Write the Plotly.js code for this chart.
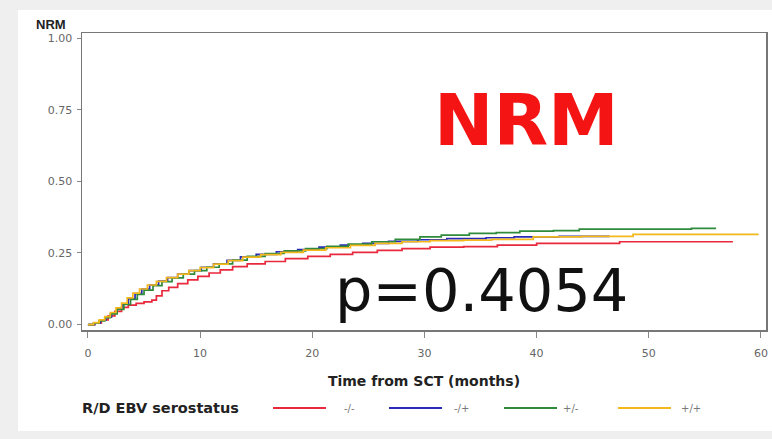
<!DOCTYPE html>
<html>
<head>
<meta charset="utf-8">
<script src="https://cdn.plot.ly/plotly-3.0.1.min.js"></script>
<style>
  html, body { margin: 0; padding: 0; background: #efefef; width: 772px; height: 439px; overflow: hidden; }
  #chart { position: absolute; left: 18px; top: 10px; width: 754px; height: 421px; background: #ffffff; }
</style>
</head>
<body>
<div id="chart"></div>
<script>
// ---- data ----
const groupNames = ["-/-", "-/+", "+/-", "+/+"];
const groupColors = ["#e8283c", "#2a2ab8", "#2f8a3c", "#f2b81c"];

const redTime = [0, 0.6, 1.2, 1.8, 2.4, 3.0, 3.6, 4.3, 5.0, 5.7, 6.1, 6.6, 7.2, 8.0, 8.9, 9.8, 10.8, 11.8, 12.9, 14.2, 15.8, 17.6, 19.6, 21.6, 23.6, 25.8, 28.0, 30.5, 33.5, 36.5, 40.0, 43.5, 47.4, 52.0, 57.5];
const redValue = [0, 0.006, 0.016, 0.030, 0.046, 0.060, 0.068, 0.074, 0.079, 0.085, 0.100, 0.118, 0.130, 0.143, 0.156, 0.168, 0.180, 0.191, 0.202, 0.212, 0.220, 0.230, 0.238, 0.245, 0.252, 0.259, 0.265, 0.270, 0.272, 0.277, 0.283, 0.283, 0.289, 0.289, 0.289];

const blueTime = [0, 0.6, 1.1, 1.6, 2.1, 2.6, 3.1, 3.6, 4.2, 4.8, 5.5, 6.3, 7.1, 8.0, 9.0, 10.1, 11.2, 12.4, 13.6, 15.0, 16.8, 18.7, 20.6, 22.5, 24.5, 26.8, 29.4, 32.0, 35.5, 38.0, 42.0, 46.5];
const blueValue = [0, 0.006, 0.015, 0.026, 0.040, 0.056, 0.072, 0.090, 0.108, 0.124, 0.138, 0.152, 0.164, 0.176, 0.188, 0.200, 0.212, 0.224, 0.236, 0.245, 0.254, 0.262, 0.270, 0.277, 0.283, 0.290, 0.296, 0.300, 0.303, 0.306, 0.308, 0.308];

const greenTime = [0, 0.5, 1.0, 1.5, 2.0, 2.6, 3.2, 3.8, 4.4, 5.0, 5.8, 6.6, 7.5, 8.5, 9.5, 10.6, 11.7, 12.9, 14.2, 15.8, 17.5, 19.4, 21.3, 23.2, 25.3, 27.4, 29.6, 31.5, 34.0, 36.4, 38.5, 41.5, 43.8, 49.0, 53.8, 56.0];
const greenValue = [0, 0.005, 0.013, 0.024, 0.037, 0.053, 0.070, 0.088, 0.105, 0.120, 0.136, 0.150, 0.163, 0.176, 0.188, 0.200, 0.212, 0.225, 0.238, 0.248, 0.257, 0.265, 0.273, 0.281, 0.289, 0.297, 0.306, 0.312, 0.318, 0.321, 0.326, 0.328, 0.333, 0.333, 0.336, 0.336];

const yellowTime = [0, 0.5, 1.0, 1.5, 2.0, 2.5, 3.0, 3.5, 4.0, 4.6, 5.3, 6.1, 7.0, 8.0, 9.0, 10.0, 11.2, 12.5, 13.8, 15.4, 17.2, 19.2, 21.2, 23.4, 25.6, 28.0, 30.5, 33.5, 36.0, 39.7, 44.0, 48.6, 53.0, 59.8];
const yellowValue = [0, 0.007, 0.016, 0.028, 0.042, 0.058, 0.075, 0.093, 0.110, 0.124, 0.138, 0.151, 0.164, 0.176, 0.188, 0.199, 0.211, 0.223, 0.235, 0.244, 0.252, 0.260, 0.268, 0.276, 0.283, 0.289, 0.293, 0.295, 0.297, 0.306, 0.308, 0.315, 0.315, 0.315];

const xTicks = [0, 10, 20, 30, 40, 50, 60];
const yTicks = [0, 0.25, 0.5, 0.75, 1.0];

const yAxisLabel = "NRM";
const xAxisLabel = "Time from SCT (months)";
const legendTitle = "R/D EBV serostatus";
const bigLabel = "NRM";
const pValueLabel = "p=0.4054";

// ---- traces ----
const series = [
  [redTime, redValue],
  [blueTime, blueValue],
  [greenTime, greenValue],
  [yellowTime, yellowValue]
];
const traces = series.map((s, i) => ({
  type: "scatter",
  mode: "lines",
  x: s[0],
  y: s[1],
  name: groupNames[i],
  line: { color: groupColors[i], width: 1.7, shape: "hv" },
  showlegend: false,
  hoverinfo: "skip"
}));

// ---- custom legend (line samples + labels), in paper coordinates ----
const plotL = 82, plotR = 766, plotT = 33, plotB = 330;
const px2x = p => (p - plotL) / (plotR - plotL);
const py2y = p => (plotB - p) / (plotB - plotT);
const legendY = 408;
const legendLineStart = [273, 389, 504, 618];
const legendLineLen = 53;
const legendTextX = [349, 461, 571, 691];

const shapes = groupNames.map((g, i) => ({
  type: "line", xref: "paper", yref: "paper",
  x0: px2x(legendLineStart[i]), x1: px2x(legendLineStart[i] + legendLineLen),
  y0: py2y(legendY), y1: py2y(legendY),
  line: { color: groupColors[i], width: 2 }
}));

const FONT = "DejaVu Sans, Verdana, sans-serif";
const annotations = [
  { text: yAxisLabel, xref: "paper", yref: "paper", x: px2x(51), y: py2y(24),
    xanchor: "center", yanchor: "middle", showarrow: false,
    font: { family: "Liberation Sans, Arial, sans-serif", size: 13, color: "#222", weight: "bold" } },
  { text: bigLabel, xref: "paper", yref: "paper", x: px2x(526), y: py2y(120),
    xanchor: "center", yanchor: "middle", showarrow: false,
    font: { family: FONT, size: 71, color: "#f41414", weight: "bold" } },
  { text: pValueLabel, xref: "paper", yref: "paper", x: px2x(481), y: py2y(290),
    xanchor: "center", yanchor: "middle", showarrow: false,
    font: { family: FONT, size: 59, color: "#111" } },
  { text: legendTitle, xref: "paper", yref: "paper", x: px2x(80), y: py2y(legendY),
    xanchor: "left", yanchor: "middle", showarrow: false,
    font: { family: FONT, size: 14.5, color: "#222", weight: "bold" } }
].concat(groupNames.map((g, i) => ({
  text: g, xref: "paper", yref: "paper", x: px2x(legendTextX[i]), y: py2y(legendY),
  xanchor: "center", yanchor: "middle", showarrow: false,
  font: { family: FONT, size: 10, color: "#777" }
})));

const layout = {
  width: 754, height: 421,
  margin: { l: 64, r: 6, t: 23, b: 101 },
  paper_bgcolor: "#ffffff",
  plot_bgcolor: "#ffffff",
  showlegend: false,
  font: { family: FONT, color: "#666" },
  xaxis: {
    range: [-0.53, 60.45],
    tickmode: "array", tickvals: xTicks,
    ticks: "outside", ticklen: 6, tickcolor: "#888", tickwidth: 1,
    showline: true, linecolor: "#777", linewidth: 1.5, mirror: true,
    showgrid: false, zeroline: false,
    tickfont: { family: FONT, size: 11, color: "#666" },
    ticklabelstandoff: 6,
    title: { text: xAxisLabel, standoff: 17, font: { family: FONT, size: 14, color: "#222", weight: "bold" } }
  },
  yaxis: {
    range: [-0.019, 1.0175],
    tickmode: "array", tickvals: yTicks, tickformat: ".2f",
    ticks: "outside", ticklen: 4, tickcolor: "#888", tickwidth: 1,
    showline: true, linecolor: "#777", linewidth: 1.5, mirror: true,
    showgrid: false, zeroline: false,
    tickfont: { family: FONT, size: 11, color: "#666" },
    ticklabelstandoff: 2
  },
  shapes: shapes,
  annotations: annotations
};

Plotly.newPlot("chart", traces, layout, { displayModeBar: false, staticPlot: true });
</script>
</body>
</html>
